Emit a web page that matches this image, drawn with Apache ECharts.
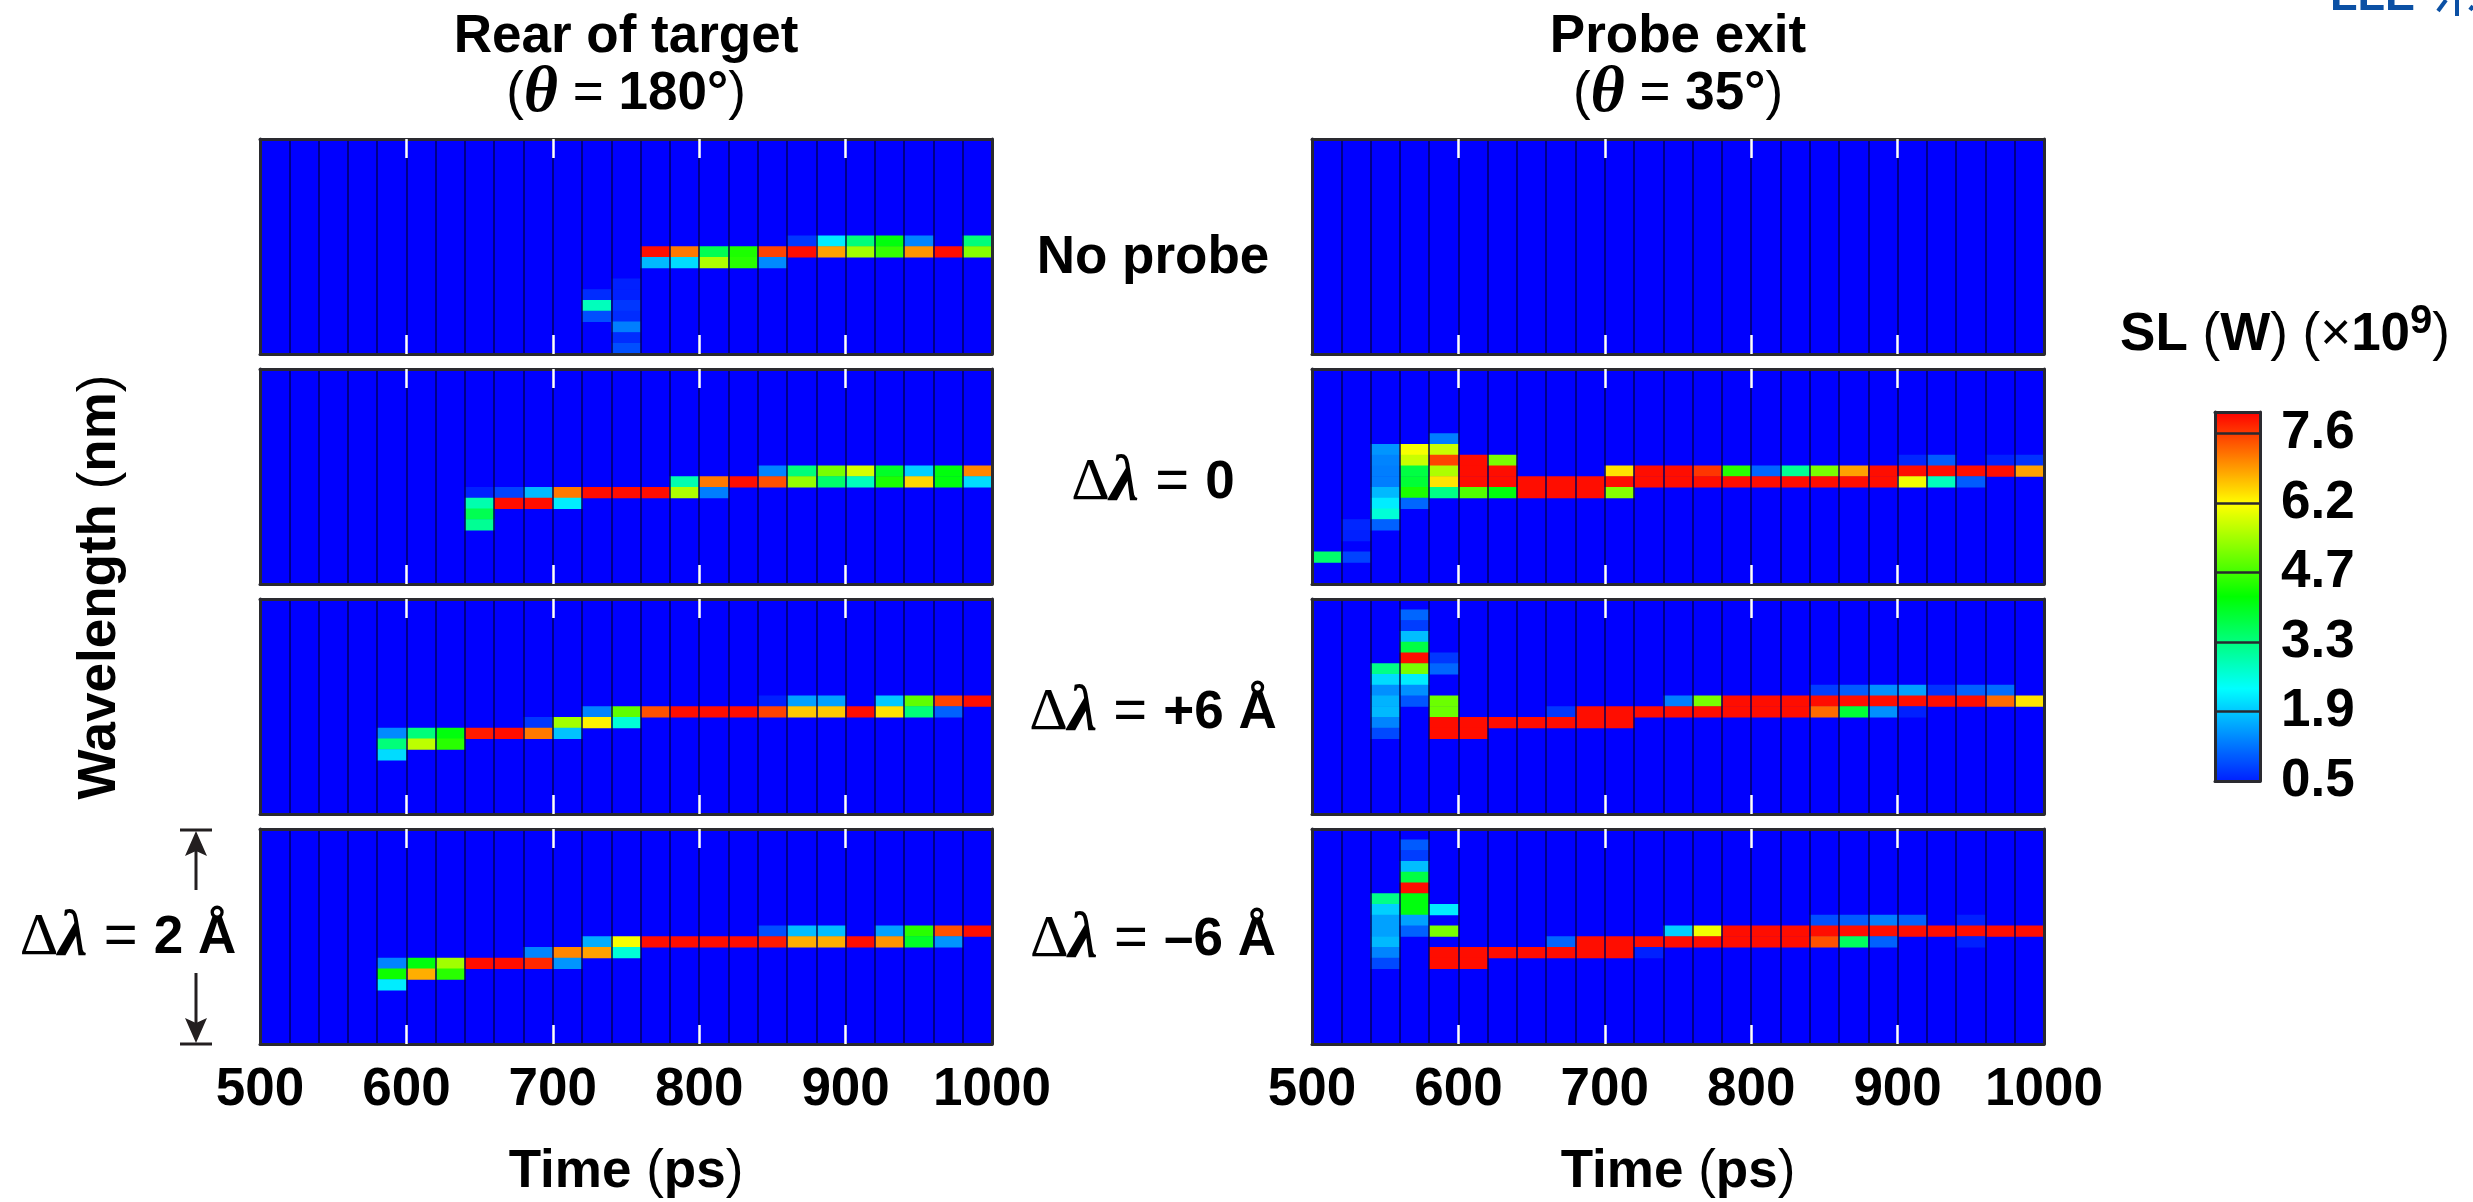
<!DOCTYPE html>
<html><head><meta charset="utf-8">
<style>html,body{margin:0;padding:0;background:#fff}#c{width:2473px;height:1202px}</style>
<script src="https://cdn.jsdelivr.net/npm/echarts@6/dist/echarts.min.js"></script>
</head><body><div id="c"></div>
<script>
// ---- data: [time-bin index, wavelength-row index from the top, SL in 1e9 W]
const timeBins = [500,520,540,560,580,600,620,640,660,680,700,720,740,760,780,800,820,840,860,880,900,920,940,960,980];
const waveRows = ['r0','r1','r2','r3','r4','r5','r6','r7','r8','r9','r10','r11','r12','r13','r14','r15','r16','r17','r18','r19'];
const timeTicks = [600,700,800,900];
const barTicks = [0.5,1.92,3.34,4.76,6.18,7.6];
const barLabels = ['0.5','1.9','3.3','4.7','6.2','7.6'];

const rearNoProbe = [
[11,14,0.6],[11,15,2.9],[11,16,0.9],
[12,13,0.5],[12,14,0.5],[12,15,0.7],[12,16,0.6],[12,17,1.3],[12,18,0.6],[12,19,0.9],
[13,10,8.0],[13,11,1.8],[14,10,7.2],[14,11,2.1],[15,10,3.7],[15,11,5.6],[16,10,4.5],[16,11,4.6],[17,10,7.6],[17,11,1.4],
[18,9,0.7],[18,10,8.0],[19,9,2.25],[19,10,6.9],[20,9,3.4],[20,10,5.5],[21,9,4.2],[21,10,4.7],[22,9,1.35],[22,10,7.0],
[23,10,8.0],[24,9,3.4],[24,10,5.3]];
const rearZero = [
[7,11,0.5],[7,12,3.0],[7,13,3.7],[7,14,3.2],[8,11,0.8],[8,12,8.0],[9,11,1.8],[9,12,8.0],[10,11,7.2],[10,12,2.25],
[11,11,8.0],[12,11,8.0],[13,11,8.0],[14,10,3.0],[14,11,5.6],[15,10,7.2],[15,11,1.3],[16,10,8.0],[17,9,1.35],[17,10,7.5],
[18,9,3.4],[18,10,5.4],[19,9,5.2],[19,10,3.5],[20,9,5.9],[20,10,2.9],[21,9,4.0],[21,10,4.5],[22,9,2.0],[22,10,6.5],
[23,9,4.2],[23,10,4.2],[24,9,7.1],[24,10,2.1]];
const rearPlus = [
[4,12,1.4],[4,13,3.4],[4,14,2.1],[5,12,3.4],[5,13,5.7],[6,12,4.2],[6,13,4.6],[7,12,7.9],[8,12,8.0],[9,11,0.7],[9,12,7.2],
[10,11,5.5],[10,12,1.9],[11,10,1.35],[11,11,6.3],[12,10,5.0],[12,11,2.7],[13,10,7.5],[14,10,8.0],[15,10,8.0],[16,10,8.0],
[17,9,0.5],[17,10,7.6],[18,9,1.6],[18,10,6.6],[19,9,1.6],[19,10,6.6],[20,10,8.0],[21,9,1.95],[21,10,6.4],[22,9,5.0],[22,10,3.4],
[23,9,7.6],[23,10,1.05],[24,9,8.0]];
const rearMinus = [
[4,12,1.35],[4,13,4.4],[4,14,2.25],[5,12,4.2],[5,13,6.8],[6,12,5.5],[6,13,4.6],[7,12,8.0],[8,12,8.0],[9,11,1.35],[9,12,7.8],
[10,11,7.1],[10,12,1.5],[11,10,1.7],[11,11,6.9],[12,10,6.15],[12,11,2.7],[13,10,8.0],[14,10,8.0],[15,10,8.0],[16,10,8.0],
[17,9,0.9],[17,10,7.9],[18,9,1.85],[18,10,6.8],[19,9,1.85],[19,10,6.8],[20,10,8.0],[21,9,1.6],[21,10,7.0],[22,9,4.6],[22,10,4.0],
[23,9,7.5],[23,10,1.5],[24,9,8.0]];
const probeNoProbe = [];
const probeZero = [
[0,17,3.5],[1,14,0.55],[1,15,0.5],[1,17,0.8],
[2,7,1.5],[2,8,1.35],[2,9,1.3],[2,10,1.3],[2,11,1.8],[2,12,2.25],[2,13,2.7],[2,14,1.05],
[3,7,6.15],[3,8,5.8],[3,9,3.8],[3,10,3.9],[3,11,4.5],[3,12,1.1],
[4,6,1.3],[4,7,5.8],[4,8,7.6],[4,9,5.6],[4,10,6.4],[4,11,3.3],
[5,8,8.0],[5,9,8.0],[5,10,8.0],[5,11,4.9],[6,8,5.2],[6,9,8.0],[6,10,8.0],[6,11,4.2],
[7,10,8.0],[7,11,8.0],[8,10,8.0],[8,11,8.0],[9,10,8.0],[9,11,8.0],[10,9,6.4],[10,10,8.0],[10,11,5.3],
[11,9,8.0],[11,10,8.0],[12,9,8.0],[12,10,8.0],[13,9,7.7],[13,10,8.0],[14,9,4.6],[14,10,8.0],[15,9,1.1],[15,10,8.0],
[16,9,3.2],[16,10,8.0],[17,9,5.2],[17,10,8.0],[18,9,6.9],[18,10,8.0],[19,9,8.0],[19,10,8.0],
[20,8,0.55],[20,9,8.0],[20,10,6.1],[21,8,1.0],[21,9,8.0],[21,10,2.9],[22,9,8.0],[22,10,1.0],[23,8,0.5],[23,9,8.0],[24,8,0.65],[24,9,6.9]];
const probePlus = [
[2,6,3.3],[2,7,2.1],[2,8,1.45],[2,9,1.75],[2,10,1.8],[2,11,1.35],[2,12,0.85],
[3,1,1.1],[3,2,0.75],[3,3,1.85],[3,4,3.8],[3,5,8.0],[3,6,5.2],[3,7,2.25],[3,8,1.45],[3,9,0.95],
[4,5,0.7],[4,6,1.1],[4,9,5.1],[4,10,5.1],[4,11,8.0],[4,12,8.0],[5,11,8.0],[5,12,8.0],[6,11,8.0],[7,11,8.0],[8,10,0.7],[8,11,8.0],
[9,10,8.0],[9,11,8.0],[10,10,8.0],[10,11,8.0],[11,10,8.0],[12,9,1.3],[12,10,8.0],[13,9,5.2],[13,10,8.0],
[14,9,8.0],[14,10,8.0],[15,9,8.0],[15,10,8.0],[16,9,8.0],[16,10,8.0],
[17,8,0.75],[17,9,8.0],[17,10,7.3],[18,8,1.0],[18,9,8.0],[18,10,3.9],[19,8,1.45],[19,9,8.0],[19,10,1.45],
[20,8,1.6],[20,9,8.0],[20,10,0.5],[21,8,0.65],[21,9,8.0],[22,8,1.05],[22,9,8.0],[23,8,1.15],[23,9,7.3],[24,9,6.4]];
const probeMinus = [
[2,6,3.3],[2,7,2.0],[2,8,1.6],[2,9,1.6],[2,10,1.8],[2,11,1.35],[2,12,0.85],
[3,1,1.0],[3,2,0.75],[3,3,1.85],[3,4,3.8],[3,5,8.0],[3,6,4.2],[3,7,4.2],[3,8,1.6],[3,9,1.05],
[4,7,2.25],[4,9,5.2],[4,11,8.0],[4,12,8.0],[5,11,8.0],[5,12,8.0],[6,11,8.0],[7,11,8.0],[8,10,1.1],[8,11,8.0],
[9,10,8.0],[9,11,8.0],[10,10,8.0],[10,11,8.0],[11,10,8.0],[11,11,0.5],[12,9,2.0],[12,10,8.0],[13,9,6.1],[13,10,8.0],
[14,9,8.0],[14,10,8.0],[15,9,8.0],[15,10,8.0],[16,9,8.0],[16,10,8.0],
[17,8,0.9],[17,9,8.0],[17,10,7.5],[18,8,1.0],[18,9,8.0],[18,10,3.6],[19,8,1.3],[19,9,8.0],[19,10,1.05],
[20,8,1.05],[20,9,8.0],[21,9,8.0],[22,8,0.5],[22,9,8.0],[22,10,0.5],[23,9,8.0],[24,9,8.0]];

// ---- layout and styling
const panels = [rearNoProbe, rearZero, rearPlus, rearMinus, probeNoProbe, probeZero, probePlus, probeMinus];
const colLeft = [260, 1312], panelW = 732, panelH = 215, rowTop = [139, 369, 599, 829];
const ink = '#231f20', SANS = '"Liberation Sans"', SERIF = '"Liberation Serif"', FS = 53;
const sep = {color:'rgba(0,0,90,0.6)', width:1.6};
const border = {color:'#2a2a30', width:3};

const grids = [], xAxes = [], yAxes = [], series = [];
panels.forEach((cells, i) => {
  const col = i < 4 ? 0 : 1, row = i % 4, bottom = row === 3;
  grids.push({left:colLeft[col], top:rowTop[row], width:panelW, height:panelH, show:true, backgroundColor:'#0000ff', borderWidth:0});
  xAxes.push({type:'category', gridIndex:i, data:timeBins, show:false});
  const timeAxis = (pos, labels) => ({
    type:'value', gridIndex:i, position:pos, min:500, max:1000, interval:100, z:5, silent:true,
    axisLine:{show:true, onZero:false, lineStyle:border},
    axisTick:{show:true, inside:true, length:19, customValues:timeTicks, lineStyle:{color:'#fff', width:2.5}},
    minorTick:{show:false, splitNumber:5},
    splitLine:{show:true, lineStyle:sep},
    minorSplitLine:{show:true, lineStyle:sep},
    axisLabel:{show:labels, color:'#000', fontFamily:SANS, fontWeight:'bold', fontSize:FS, margin:20, formatter:v => String(v)}
  });
  xAxes.push(timeAxis('bottom', bottom), timeAxis('top', false));
  yAxes.push({type:'category', gridIndex:i, data:waveRows, inverse:true, z:5, position:'left',
    axisLine:{show:true, onZero:false, lineStyle:border}, axisTick:{show:false}, axisLabel:{show:false}, splitLine:{show:false}});
  yAxes.push({type:'value', gridIndex:i, min:0, max:1, position:'right', z:5,
    axisLine:{show:true, onZero:false, lineStyle:border}, axisTick:{show:false}, axisLabel:{show:false}, splitLine:{show:false}});
  series.push({type:'heatmap', xAxisIndex:3*i, yAxisIndex:2*i, data:cells, silent:true, z:2,
    itemStyle:{borderWidth:0}, emphasis:{disabled:true}, progressive:0, animation:false});
});

// colour bar frame, ticks and labels sit on their own grid over the visualMap ramp
const barGrid = panels.length;
const barLeft = 2215, barTop = 412, barW = 45, barH = 369;
grids.push({left:barLeft, top:barTop, width:barW, height:barH, show:false});
const barX = pos => ({type:'value', gridIndex:barGrid, min:0, max:1, position:pos, z:8,
  axisLine:{show:true, onZero:false, lineStyle:border}, axisTick:{show:false}, axisLabel:{show:false}, splitLine:{show:false}});
xAxes.push(barX('bottom'), barX('top'));
yAxes.push({type:'value', gridIndex:barGrid, min:0.5, max:8.04, position:'left', z:8,
  axisLine:{show:true, onZero:false, lineStyle:border}, axisTick:{show:false}, axisLabel:{show:false}, splitLine:{show:false}});
yAxes.push({type:'value', gridIndex:barGrid, min:0.5, max:8.04, position:'right', z:8,
  axisLine:{show:true, onZero:false, lineStyle:border},
  axisTick:{show:false, customValues:barTicks},
  splitLine:{show:true, lineStyle:{color:'#2a2a30', width:2.5}},
  axisLabel:{show:true, customValues:barTicks, margin:21, color:'#000', fontFamily:SANS, fontWeight:'bold', fontSize:FS,
    showMinLabel:true, showMaxLabel:true, hideOverlap:false,
    formatter:v => barLabels[barTicks.indexOf(v)]}
});

// ---- text and annotation
const base = {fontFamily:SANS, fontSize:FS, fill:'#000', fontWeight:'bold'};
const richStyles = {
  b:{fontFamily:SANS, fontSize:FS, fontWeight:'bold', fill:'#000', color:'#000'},
  r:{fontFamily:SANS, fontSize:FS, fontWeight:'normal', fill:'#000', color:'#000'},
  e:{fontFamily:SANS, fontSize:58, fontWeight:'normal', fill:'#000', color:'#000'},
  g:{fontFamily:SERIF, fontSize:66, fontWeight:'bold', fontStyle:'italic', fill:'#000', color:'#000'},
  d:{fontFamily:SERIF, fontSize:60, fontWeight:'normal', fill:'#000', color:'#000'},
  s:{fontFamily:SANS, fontSize:40, fontWeight:'bold', fill:'#000', color:'#000', padding:[0,0,26,0]}
};
const txt = (text, x, y, rot) => ({type:'text', x, y, rotation:rot||0, silent:true, z:20,
  style:{text, rich:richStyles, align:'center', verticalAlign:'middle', textAlign:'center', textVerticalAlign:'middle', ...base, font:'bold '+FS+'px '+SANS}});
const dl = '{d|\u0394}{g|\u03bb}';
const texts = [
  txt('{b|Rear of target}', 626, 37),
  txt('{r|(}{g|\u03b8}{r| = }{b|180\u00b0}{r|)}', 626, 94),
  txt('{b|Probe exit}', 1678, 37),
  txt('{r|(}{g|\u03b8}{r| = }{b|35\u00b0}{r|)}', 1678, 94),
  txt('{b|No probe}', 1153, 258),
  txt(dl+'{e| = }{b|0}', 1153, 483),
  txt(dl+'{e| = }{b|+6 \u00c5}', 1153, 713),
  txt(dl+'{e| = }{b|\u20136 \u00c5}', 1153, 940),
  txt(dl+'{e| = }{b|2 \u00c5}', 128, 938),
  txt('{b|Wavelength }{r|(}{b|nm}{r|)}', 100, 587, Math.PI/2),
  txt('{b|Time }{r|(}{b|ps}{r|)}', 626, 1172),
  txt('{b|Time }{r|(}{b|ps}{r|)}', 1678, 1172),
  txt('{b|SL }{r|(}{b|W}{r|)}{r| (\u00d7}{b|10}{s|9}{r|)}', 2285, 335)
];
const seg = (x1,y1,x2,y2,w,c) => ({type:'line', silent:true, z:20, shape:{x1,y1,x2,y2}, style:{stroke:c||ink, lineWidth:w}});
const tri = pts => ({type:'polygon', silent:true, z:20, shape:{points:pts}, style:{fill:ink}});
const logo = '#0b50a4';
const marks = [
  seg(180,830,212,830,3), seg(196,848,196,890,3), tri([[196,831],[185,856],[196,851],[207,856]]),
  seg(180,1044,212,1044,3), seg(196,973,196,1026,3), tri([[196,1043],[185,1018],[196,1023],[207,1018]]),
  {type:'text', x:2330, y:20, silent:true, z:20, style:{text:'LLE', font:'bold 45px '+SANS, fill:logo, align:'left', verticalAlign:'bottom'}},
  seg(2438,11,2446,0,4,logo), seg(2457,16,2457,0,4,logo), seg(2470,10,2473,6,4,logo)
];

const chart = echarts.init(document.getElementById('c'), null, {renderer:'canvas'});
chart.setOption({
  animation:false, backgroundColor:'#fff', tooltip:{show:false},
  grid:grids, xAxis:xAxes, yAxis:yAxes, series,
  visualMap:{type:'continuous', min:0.5, max:8.1, calculable:false, realtime:false, show:true, silent:true,
    left:barLeft, top:barTop, itemWidth:barW, itemHeight:barH, padding:0, text:null, showLabel:false, z:4,
    hoverLink:false,
    inRange:{color:['#0020ff','#00ffff','#00ff00','#ffff00','#ff0000']}},
  graphic:{elements:[...texts, ...marks]}
});
</script></body></html>
